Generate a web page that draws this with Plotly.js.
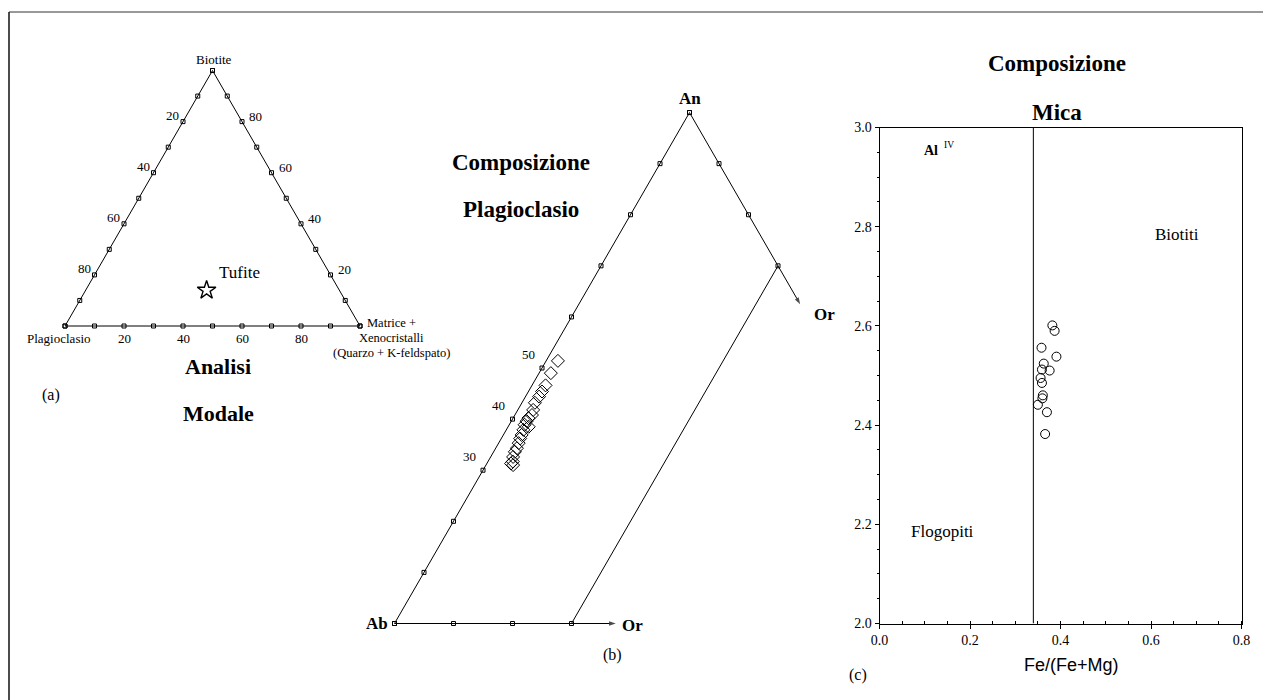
<!DOCTYPE html>
<html><head><meta charset="utf-8">
<script src="https://cdn.plot.ly/plotly-3.0.1.min.js"></script>
<style>html,body{margin:0;padding:0;background:#fff;} #chart{width:1263px;height:700px;}</style>
</head><body><div id="chart"></div>
<script>
// ================= DATA =================
// (a) Analisi modale : Biotite (top) / Plagioclasio (left) / Matrice + Xenocristalli (right)
const modaleCorners = ['Biotite', 'Plagioclasio', 'Matrice +', 'Xenocristalli', '(Quarzo + K-feldspato)'];
const modaleTickSteps = [0, 10, 20, 30, 40, 50, 60, 70, 80, 90, 100];
const modaleTickLabels = [20, 40, 60, 80];
const tufiteName = ['Tufite'];
const tufitePlag = [45];
const tufiteBiot = [14];
const tufiteMatr = [41];

// (b) Composizione Plagioclasio : An (top) / Ab (left) / Or (right)
const plagCorners = ['An', 'Ab', 'Or'];
const plagAnTicks = [0, 10, 20, 30, 40, 50, 60, 70, 80, 90, 100];
const plagOrTicks = [0, 10, 20, 30];
const plagTickLabels = [30, 40, 50];
const plagOrLine = 30;     // Or = 30 line
const plagOrEnd = 37.5;    // extent of truncated Or sides
const plagAn = [51.4, 49.0, 46.6, 45.4, 44.4, 43.2, 41.8, 40.8, 40.2, 39.6, 38.5, 38.9, 37.9, 36.9, 36.2, 35.3, 34.3, 33.6, 32.6, 31.7, 31.0, 31.3];
const plagOr = [2.0, 2.0, 2.3, 2.3, 2.3, 2.2, 2.6, 2.9, 2.6, 2.6, 3.5, 2.6, 2.9, 3.1, 3.2, 3.4, 3.6, 3.6, 3.8, 4.2, 4.6, 4.1];

// (c) Composizione Mica
const micaFe = [0.382, 0.387, 0.358, 0.391, 0.363, 0.359, 0.376, 0.356, 0.359, 0.361, 0.360, 0.350, 0.370, 0.366];
const micaAl = [2.601, 2.590, 2.556, 2.538, 2.524, 2.512, 2.510, 2.495, 2.485, 2.460, 2.454, 2.441, 2.426, 2.382];
const micaBoundary = 0.34;
const micaXTicks = [0, 0.2, 0.4, 0.6, 0.8];
const micaYTicks = [2.0, 2.2, 2.4, 2.6, 2.8, 3.0];
const micaFields = ['Biotiti', 'Flogopiti'];

// ================= GEOMETRY HELPERS =================
const W = 1263, H = 700;
const S3 = Math.sqrt(3) / 2;
const SERIF = 'Liberation Serif, Times New Roman, serif';
const SANS = 'Liberation Sans, Arial, sans-serif';
// ternary -> cartesian (side = 1): top fraction, right fraction (percent)
function tern(top, right) { return [right / 100 + top / 200, top / 100 * S3]; }

const frameA = {ox: 65, oy: 326, side: 295, dom: [12, 378, 30, 450]};
const frameB = {ox: 394.5, oy: 623.5, side: 590, dom: [380, 862, 80, 690]};
function axesFor(f) {
  return {
    x: {domain: [f.dom[0] / W, f.dom[1] / W], range: [(f.dom[0] - f.ox) / f.side, (f.dom[1] - f.ox) / f.side],
        visible: false, fixedrange: true},
    y: {domain: [1 - f.dom[3] / H, 1 - f.dom[2] / H], range: [(f.oy - f.dom[3]) / f.side, (f.oy - f.dom[2]) / f.side],
        visible: false, fixedrange: true}
  };
}
const axA = axesFor(frameA), axB = axesFor(frameB);

const traces = [];
const ann = [];
const tickMarker = {symbol: 'square-open', size: 4, color: 'black', line: {width: 1, color: 'black'}};

// ================= PANEL (a) =================
{
  const pts = [tern(0, 0), tern(0, 100), tern(100, 0), tern(0, 0)];
  traces.push({x: pts.map(p => p[0]), y: pts.map(p => p[1]), xaxis: 'x', yaxis: 'y', mode: 'lines',
               line: {color: 'black', width: 1}, hoverinfo: 'skip', showlegend: false});
  const tk = [];
  modaleTickSteps.forEach(t => { tk.push(tern(0, t)); tk.push(tern(t, 0)); tk.push(tern(t, 100 - t)); });
  traces.push({x: tk.map(p => p[0]), y: tk.map(p => p[1]), xaxis: 'x', yaxis: 'y', mode: 'markers',
               marker: tickMarker, hoverinfo: 'skip', showlegend: false, cliponaxis: false});
  // Tufite
  const tf = tufiteBiot.map((b, i) => tern(b, tufiteMatr[i]));
  traces.push({x: tf.map(p => p[0]), y: tf.map(p => p[1]), xaxis: 'x', yaxis: 'y', mode: 'markers',
               name: tufiteName[0], text: tufiteName,
               marker: {symbol: 'star-open', size: 14, color: 'black', line: {width: 1.4, color: 'black'}},
               showlegend: false, cliponaxis: false});
  tf.forEach((p, i) => ann.push({xref: 'x', yref: 'y', x: p[0], y: p[1], text: tufiteName[i], showarrow: false,
               xshift: 33, yshift: 18, font: {family: SERIF, size: 17, color: 'black'}}));
  const f13 = {family: SERIF, size: 13, color: 'black'};
  modaleTickLabels.forEach(v => {
    let p = tern(0, v);                       // Matrice along bottom
    ann.push({xref: 'x', yref: 'y', x: p[0], y: p[1], text: String(v), showarrow: false, yshift: -12, font: f13});
    p = tern(100 - v, 0);                     // Plagioclasio along left side
    ann.push({xref: 'x', yref: 'y', x: p[0], y: p[1], text: String(v), showarrow: false, xshift: -10.5, yshift: 6, font: f13});
    p = tern(v, 100 - v);                     // Biotite along right side
    ann.push({xref: 'x', yref: 'y', x: p[0], y: p[1], text: String(v), showarrow: false, xshift: 13.5, yshift: 5, font: f13});
  });
  let p = tern(100, 0);
  ann.push({xref: 'x', yref: 'y', x: p[0], y: p[1], text: modaleCorners[0], showarrow: false, xshift: 1.5, yshift: 11, font: f13});
  p = tern(0, 0);
  ann.push({xref: 'x', yref: 'y', x: p[0], y: p[1], text: modaleCorners[1], showarrow: false, xshift: -6.5, yshift: -12.5, font: f13});
  p = tern(0, 100);
  [3, -12, -27].forEach((ys, i) => ann.push({xref: 'x', yref: 'y', x: p[0], y: p[1], text: modaleCorners[2 + i],
      showarrow: false, xshift: 31, yshift: ys, font: {family: SERIF, size: 12.5, color: 'black'}}));
}

// ================= PANEL (b) =================
{
  const seg = (a, b, arrow) => {
    const t = {x: [a[0], b[0]], y: [a[1], b[1]], xaxis: 'x2', yaxis: 'y2', mode: 'lines',
               line: {color: 'black', width: 1}, hoverinfo: 'skip', showlegend: false, cliponaxis: false};
    if (arrow) {
      t.mode = 'lines+markers';
      t.marker = {symbol: ['circle', 'arrow'], size: [0, 7], color: 'black', angleref: 'previous', line: {width: 0}};
    }
    traces.push(t);
  };
  seg(tern(0, 0), tern(100, 0), false);
  seg(tern(100, 0), tern(100 - plagOrEnd, plagOrEnd), true);
  seg(tern(0, 0), tern(0, plagOrEnd), true);
  seg(tern(0, plagOrLine), tern(100 - plagOrLine, plagOrLine), false);
  const tk = [];
  plagAnTicks.forEach(t => tk.push(tern(t, 0)));
  plagOrTicks.forEach(t => { tk.push(tern(0, t)); tk.push(tern(100 - t, t)); });
  traces.push({x: tk.map(p => p[0]), y: tk.map(p => p[1]), xaxis: 'x2', yaxis: 'y2', mode: 'markers',
               marker: tickMarker, hoverinfo: 'skip', showlegend: false, cliponaxis: false});
  const dp = plagAn.map((a, i) => tern(a, plagOr[i]));
  traces.push({x: dp.map(p => p[0]), y: dp.map(p => p[1]), xaxis: 'x2', yaxis: 'y2', mode: 'markers',
               text: plagAn.map((a, i) => 'An ' + a + ' Or ' + plagOr[i]), hoverinfo: 'text',
               marker: {symbol: 'diamond-open', size: 10, color: 'black', line: {width: 1, color: 'black'}},
               showlegend: false, cliponaxis: false});
  plagTickLabels.forEach(v => {
    const p = tern(v, 0);
    ann.push({xref: 'x2', yref: 'y2', x: p[0], y: p[1], text: String(v), showarrow: false, xshift: -14, yshift: 14,
              font: {family: SERIF, size: 13, color: 'black'}});
  });
  const fb = {family: SERIF, size: 17, color: 'black'};
  let p = tern(100, 0);
  ann.push({xref: 'x2', yref: 'y2', x: p[0], y: p[1], text: '<b>' + plagCorners[0] + '</b>', showarrow: false, yshift: 14, font: fb});
  p = tern(0, 0);
  ann.push({xref: 'x2', yref: 'y2', x: p[0], y: p[1], text: '<b>' + plagCorners[1] + '</b>', showarrow: false, xshift: -18, font: fb});
  p = tern(0, plagOrEnd);
  ann.push({xref: 'x2', yref: 'y2', x: p[0], y: p[1], text: '<b>' + plagCorners[2] + '</b>', showarrow: false, xshift: 17, yshift: -2, font: fb});
  p = tern(100 - plagOrEnd, plagOrEnd);
  ann.push({xref: 'x2', yref: 'y2', x: p[0], y: p[1], text: '<b>' + plagCorners[2] + '</b>', showarrow: false, xshift: 24, yshift: -10, font: fb});
}

// ================= PANEL (c) =================
traces.push({x: micaFe, y: micaAl, xaxis: 'x3', yaxis: 'y3', mode: 'markers',
             marker: {symbol: 'circle-open', size: 9, color: 'black', line: {width: 1, color: 'black'}},
             showlegend: false, cliponaxis: false});

const paperAnn = (px, py, text, size, family) => ({xref: 'paper', yref: 'paper', x: px / W, y: 1 - py / H,
    text: text, showarrow: false, xanchor: 'center', yanchor: 'middle', font: {family: family || SERIF, size: size, color: 'black'}});
ann.push(paperAnn(218, 366, '<b>Analisi</b>', 22));
ann.push(paperAnn(218, 413, '<b>Modale</b>', 22));
ann.push(paperAnn(51, 395, '(a)', 16));
ann.push(paperAnn(521, 162, '<b>Composizione</b>', 23));
ann.push(paperAnn(521, 209, '<b>Plagioclasio</b>', 23));
ann.push(paperAnn(612, 655, '(b)', 16));
ann.push(paperAnn(1057, 64, '<b>Composizione</b>', 23));
ann.push(paperAnn(1057, 112, '<b>Mica</b>', 23));
ann.push(paperAnn(858, 675, '(c)', 16));
ann.push(paperAnn(1071, 665, 'Fe/(Fe+Mg)', 18, SANS));
ann.push(paperAnn(931, 150, '<b>Al</b>', 14));
ann.push(paperAnn(949, 145, 'IV', 9.5));
ann.push(paperAnn(1177, 235, micaFields[0], 17));
ann.push(paperAnn(942, 531, micaFields[1], 17));

const layout = {
  width: W, height: H, margin: {l: 0, r: 0, t: 0, b: 0},
  paper_bgcolor: '#fff', plot_bgcolor: 'rgba(0,0,0,0)', showlegend: false,
  xaxis: axA.x, yaxis: axA.y,
  xaxis2: axB.x, yaxis2: axB.y,
  xaxis3: {domain: [879.5 / W, 1241.5 / W], range: [0, 0.8], tickvals: micaXTicks, tickformat: '.1f',
           ticks: 'outside', ticklen: 4, tickcolor: 'black', showline: true, linecolor: 'black', linewidth: 1, mirror: true,
           showgrid: false, zeroline: false, fixedrange: true, tickfont: {family: SERIF, size: 14, color: 'black'},
           minor: {dtick: 0.05, ticks: 'inside', ticklen: 3, tickcolor: 'black', showgrid: false}, anchor: 'y3'},
  yaxis3: {domain: [1 - 623.5 / H, 1 - 127.5 / H], range: [2, 3], tickvals: micaYTicks, tickformat: '.1f',
           ticks: 'outside', ticklen: 4, tickcolor: 'black', showline: true, linecolor: 'black', linewidth: 1, mirror: true,
           showgrid: false, zeroline: false, fixedrange: true, tickfont: {family: SERIF, size: 14, color: 'black'},
           minor: {dtick: 0.05, ticks: 'outside', ticklen: 2, tickcolor: 'black', showgrid: false}, anchor: 'x3'},
  annotations: ann,
  shapes: [
    {type: 'line', xref: 'x3', yref: 'y3', x0: micaBoundary, x1: micaBoundary, y0: 2, y1: 3, line: {color: 'black', width: 1}},
    {type: 'line', xref: 'paper', yref: 'paper', x0: 9 / W, x1: 1, y0: 1 - 12 / H, y1: 1 - 12 / H, line: {color: '#333', width: 1}},
    {type: 'line', xref: 'paper', yref: 'paper', x0: 9 / W, x1: 9 / W, y0: 0, y1: 1 - 12 / H, line: {color: '#111', width: 1.5}}
  ]
};
Plotly.newPlot('chart', traces, layout, {displayModeBar: false, staticPlot: false});
</script>
</body></html>
